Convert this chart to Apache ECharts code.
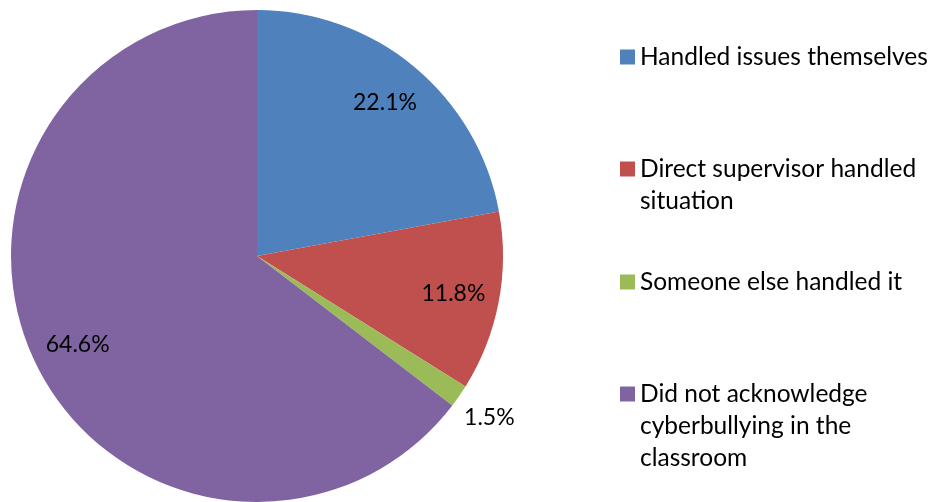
<!DOCTYPE html>
<html>
<head>
<meta charset="utf-8">
<script src="https://cdn.jsdelivr.net/npm/echarts@6/dist/echarts.min.js"></script>
<style>html,body{margin:0;padding:0;background:#fff;}#c{width:934px;height:502px;}</style>
</head>
<body>
<div id="c"></div>
<script>
const categories = ['Handled issues themselves', 'Direct supervisor handled situation', 'Someone else handled it', 'Did not acknowledge cyberbullying in the classroom'];
const legendLines = [['Handled issues themselves'], ['Direct supervisor handled', 'situation'], ['Someone else handled it'], ['Did not acknowledge', 'cyberbullying in the', 'classroom']];
const values = [22.1, 11.8, 1.5, 64.6];
const colors = ['#4F81BD', '#C0504D', '#9BBB59', '#8064A2'];
const outsideLabel = [false, false, true, false];

const FONT = 'Lato';
const LEGEND_FS = 24.5;
const LABEL_FS = 23;
const LH = 32;
const firstLineY = [57, 169, 282, 394];

const chart = echarts.init(document.getElementById('c'), null, {renderer: 'canvas'});

const legends = categories.map((name, i) => {
  const n = legendLines[i].length;
  // prepend blank lines so that the first real line sits level with the marker
  const lines = Array(n - 1).fill(' ').concat(legendLines[i]);
  return {
    orient: 'vertical',
    left: 620,
    top: firstLineY[i] - (2 * n - 1) * LH / 2,
    padding: 0,
    itemWidth: 15,
    itemHeight: 15,
    icon: 'rect',
    data: [name],
    formatter: () => lines.join('\n'),
    textStyle: {fontFamily: FONT, fontSize: LEGEND_FS, color: '#000', lineHeight: LH}
  };
});

chart.setOption({
  animation: false,
  color: colors,
  legend: legends,
  series: [
    {
      type: 'pie',
      center: [257, 256],
      radius: [0, 246],
      startAngle: 90,
      clockwise: true,
      avoidLabelOverlap: false,
      data: categories.map((name, i) => ({
        name, value: values[i],
        itemStyle: {color: colors[i]},
        label: {show: outsideLabel[i], offset: [-14, 18]},
        labelLine: {show: false, length: 6, length2: 9}
      })),
      label: {
        position: 'outside',
        formatter: p => p.value.toFixed(1) + '%',
        fontFamily: FONT, fontSize: LABEL_FS, color: '#000'
      },
      itemStyle: {borderWidth: 0}
    },
    {
      type: 'pie',
      silent: true,
      center: [257, 256],
      radius: [148, 246],
      startAngle: 90,
      clockwise: true,
      data: categories.map((name, i) => ({
        name, value: values[i],
        label: {show: !outsideLabel[i]}
      })),
      itemStyle: {color: 'rgba(0,0,0,0)', borderWidth: 0},
      label: {
        position: 'inside',
        formatter: p => p.value.toFixed(1) + '%',
        fontFamily: FONT, fontSize: LABEL_FS, color: '#000'
      },
      labelLine: {show: false}
    }
  ]
});
</script>
</body>
</html>
